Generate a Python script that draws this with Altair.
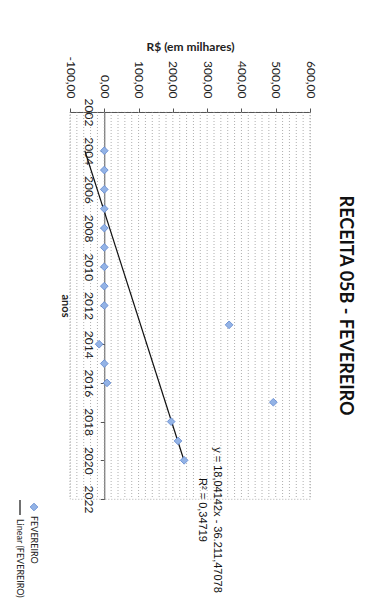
import altair as alt
import pandas as pd

years = [2004, 2005, 2006, 2007, 2008, 2009, 2010, 2011, 2012, 2013,
         2014, 2015, 2016, 2017, 2018, 2019, 2020]
values = [0, 0, 0, 0, 0, 0, 0, 0, 0, 364,
          -15, 0, 8, 493, 195, 215, 233]
value_ticks = [-100, 0, 100, 200, 300, 400, 500, 600]
year_ticks = [2002, 2004, 2006, 2008, 2010, 2012, 2014, 2016, 2018, 2020, 2022]
grid_values = list(range(-100, 601, 20))
equation = "y = 18,04142x - 36.211,47078"
r2_text = "R² = 0,34719"
title_text = "RECEITA 05B - FEVEREIRO"
legend_series = "FEVEREIRO"
legend_trend = "Linear (FEVEREIRO)"

df = pd.DataFrame({"ano": years, "valor": values})
grid_df = pd.DataFrame({"g": grid_values})
one = pd.DataFrame({"k": [0]})

W, H = 240, 387
FONT = "Lato"

xscale = alt.Scale(domain=[-100, 600], nice=False, zero=False)
yscale = alt.Scale(domain=[2002, 2022], nice=False, zero=False, reverse=True)

x_axis = alt.Axis(orient="top", values=value_ticks, grid=False,
                  labelExpr="replace(replace(format(datum.value, '.2f'), '.', ','), '\u2212', '-')",
                  labelAngle=90, labelAlign="right", labelBaseline="middle",
                  labelFont=FONT, labelFontSize=12, labelColor="#222", labelOverlap=False,
                  labelPadding=10, tickSize=4, tickColor="#555",
                  domainColor="#555", titleFont=FONT, titleFontSize=12,
                  titleFontWeight="bold", titleColor="#222", titlePadding=3)

y_axis = alt.Axis(orient="left", values=year_ticks, grid=False, format="d",
                  offset=-W * 100 / 700, labelOverlap=False,
                  labelAngle=90, labelAlign="center", labelBaseline="top",
                  labelFont=FONT, labelFontSize=12, labelColor="#222",
                  labelPadding=7, tickSize=4, tickColor="#555",
                  domainColor="#555", titleFont=FONT, titleFontSize=11,
                  titleFontWeight="bold", titleColor="#222",
                  titleAngle=90, titleBaseline="top", titleAlign="center",
                  titlePadding=12)

POINT_STYLE = dict(shape="diamond", filled=True, size=60, fill="#93b3e6",
                   stroke="#5f86cf", strokeWidth=0.8, opacity=1)

points = alt.Chart(df).mark_point(**POINT_STYLE).encode(
    x=alt.X("valor:Q", scale=xscale, title="R$ (em milhares)", axis=x_axis),
    y=alt.Y("ano:Q", scale=yscale, title="anos", axis=y_axis),
)

grid = alt.Chart(grid_df).mark_rule(color="#9a9a9a", strokeWidth=0.8, strokeDash=[1, 2]).encode(
    x=alt.X("g:Q", scale=xscale, title="R$ (em milhares)", axis=x_axis),
    y=alt.value(0),
    y2=alt.value(H),
)

trend = alt.Chart(df).transform_regression("ano", "valor").mark_line(
    color="#111", strokeWidth=1.2
).encode(
    x=alt.X("valor:Q", scale=xscale, title="R$ (em milhares)", axis=x_axis),
    y=alt.Y("ano:Q", scale=yscale, title="anos", axis=y_axis),
)

eq = alt.Chart(pd.DataFrame({"t": [equation]})).mark_text(
    angle=90, align="center", baseline="middle", font="Liberation Sans", fontSize=11, color="#111"
).encode(text="t:N", x=alt.value(147), y=alt.value(408))

r2 = alt.Chart(pd.DataFrame({"t": [r2_text]})).mark_text(
    angle=90, align="center", baseline="middle", font="Liberation Sans", fontSize=11, color="#111"
).encode(text="t:N", x=alt.value(132), y=alt.value(398))

# legend (rotated, like the rest of the scanned chart)
leg_marker = alt.Chart(one).mark_point(**POINT_STYLE).encode(
    x=alt.value(-36), y=alt.value(395))
leg_text1 = alt.Chart(pd.DataFrame({"t": [legend_series]})).mark_text(
    angle=90, align="left", baseline="middle", font=FONT, fontSize=9, color="#222"
).encode(text="t:N", x=alt.value(-36), y=alt.value(404))
leg_line = alt.Chart(one).mark_rule(color="#111", strokeWidth=1.2).encode(
    x=alt.value(-50), y=alt.value(388), y2=alt.value(403))
leg_text2 = alt.Chart(pd.DataFrame({"t": [legend_trend]})).mark_text(
    angle=90, align="left", baseline="middle", font=FONT, fontSize=9, color="#222"
).encode(text="t:N", x=alt.value(-50), y=alt.value(407))

chart = alt.layer(grid, trend, points, eq, r2, leg_marker, leg_text1, leg_line, leg_text2).properties(
    width=W, height=H,
    autosize=alt.AutoSizeParams(type="none"),
    padding={"left": 62, "top": 104, "right": 53, "bottom": 101},
    title=alt.TitleParams(title_text, orient="right", angle=90, anchor="middle", frame="group",
                          font=FONT, fontSize=18, fontWeight="bold", color="#111", offset=20),
).configure_view(stroke="#9a9a9a", strokeDash=[1, 2], strokeWidth=0.8)

chart.save("out.html", embed_options={"renderer": "svg", "actions": False})
